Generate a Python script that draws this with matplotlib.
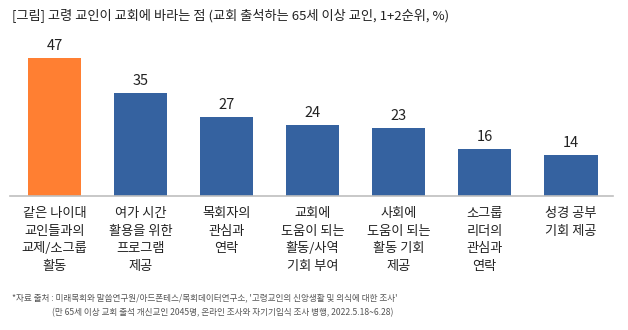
import matplotlib
matplotlib.use("Agg")
import matplotlib.pyplot as plt

plt.rcParams['font.family'] = ['Noto Sans CJK KR', 'DejaVu Sans']

categories = [
    "같은 나이대\n교인들과의\n교제/소그룹\n활동",
    "여가 시간\n활용을 위한\n프로그램\n제공",
    "목회자의\n관심과\n연락",
    "교회에\n도움이 되는\n활동/사역\n기회 부여",
    "사회에\n도움이 되는\n활동 기회\n제공",
    "소그룹\n리더의\n관심과\n연락",
    "성경 공부\n기회 제공",
]
values = [47, 35, 27, 24, 23, 16, 14]
title = "[그림] 고령 교인이 교회에 바라는 점 (교회 출석하는 65세 이상 교인, 1+2순위, %)"
source1 = "*자료 출처 : 미래목회와 말씀연구원/아드폰테스/목회데이터연구소, '고령교인의 신앙생활 및 의식에 대한 조사'"
source2 = "(만 65세 이상 교회 출석 개신교인 2045명, 온라인 조사와 자기기입식 조사 병행, 2022.5.18~6.28)"

W, H = 628, 330
fig = plt.figure(figsize=(W / 100, H / 100), dpi=100)
ax = fig.add_axes([10 / W, (H - 196) / H, (613 - 10) / W, (196 - 40) / H])

colors = ['#FF7F32'] + ['#3562A0'] * (len(values) - 1)
x = list(range(len(values)))
bars = ax.bar(x, values, width=0.62, color=colors, zorder=2)
ax.set_xlim(-0.517, 6.49)
ax.set_ylim(0, 53.1)

for xi, v in zip(x, values):
    ax.text(xi, v + 1.7, str(v), ha='center', va='bottom', fontsize=10.5, color='#222222')

for s in ['top', 'right', 'left']:
    ax.spines[s].set_visible(False)
ax.spines['bottom'].set_color('#BFBFBF')
ax.spines['bottom'].set_linewidth(1.2)
ax.set_yticks([])
ax.set_xticks(x)
ax.set_xticklabels(categories, fontsize=9.5, color='#222222', linespacing=1.45, va='top')
ax.tick_params(axis='x', length=0, pad=8)

fig.text(12 / W, 1 - 15 / H, title, fontsize=9.5, color='#222222', ha='left', va='center')
fig.text(12 / W, 1 - 298 / H, source1, fontsize=6.2, color='#555555', ha='left', va='center')
fig.text(52 / W, 1 - 313 / H, source2, fontsize=6.2, color='#555555', ha='left', va='center')

fig.savefig("out.png", dpi=100)
